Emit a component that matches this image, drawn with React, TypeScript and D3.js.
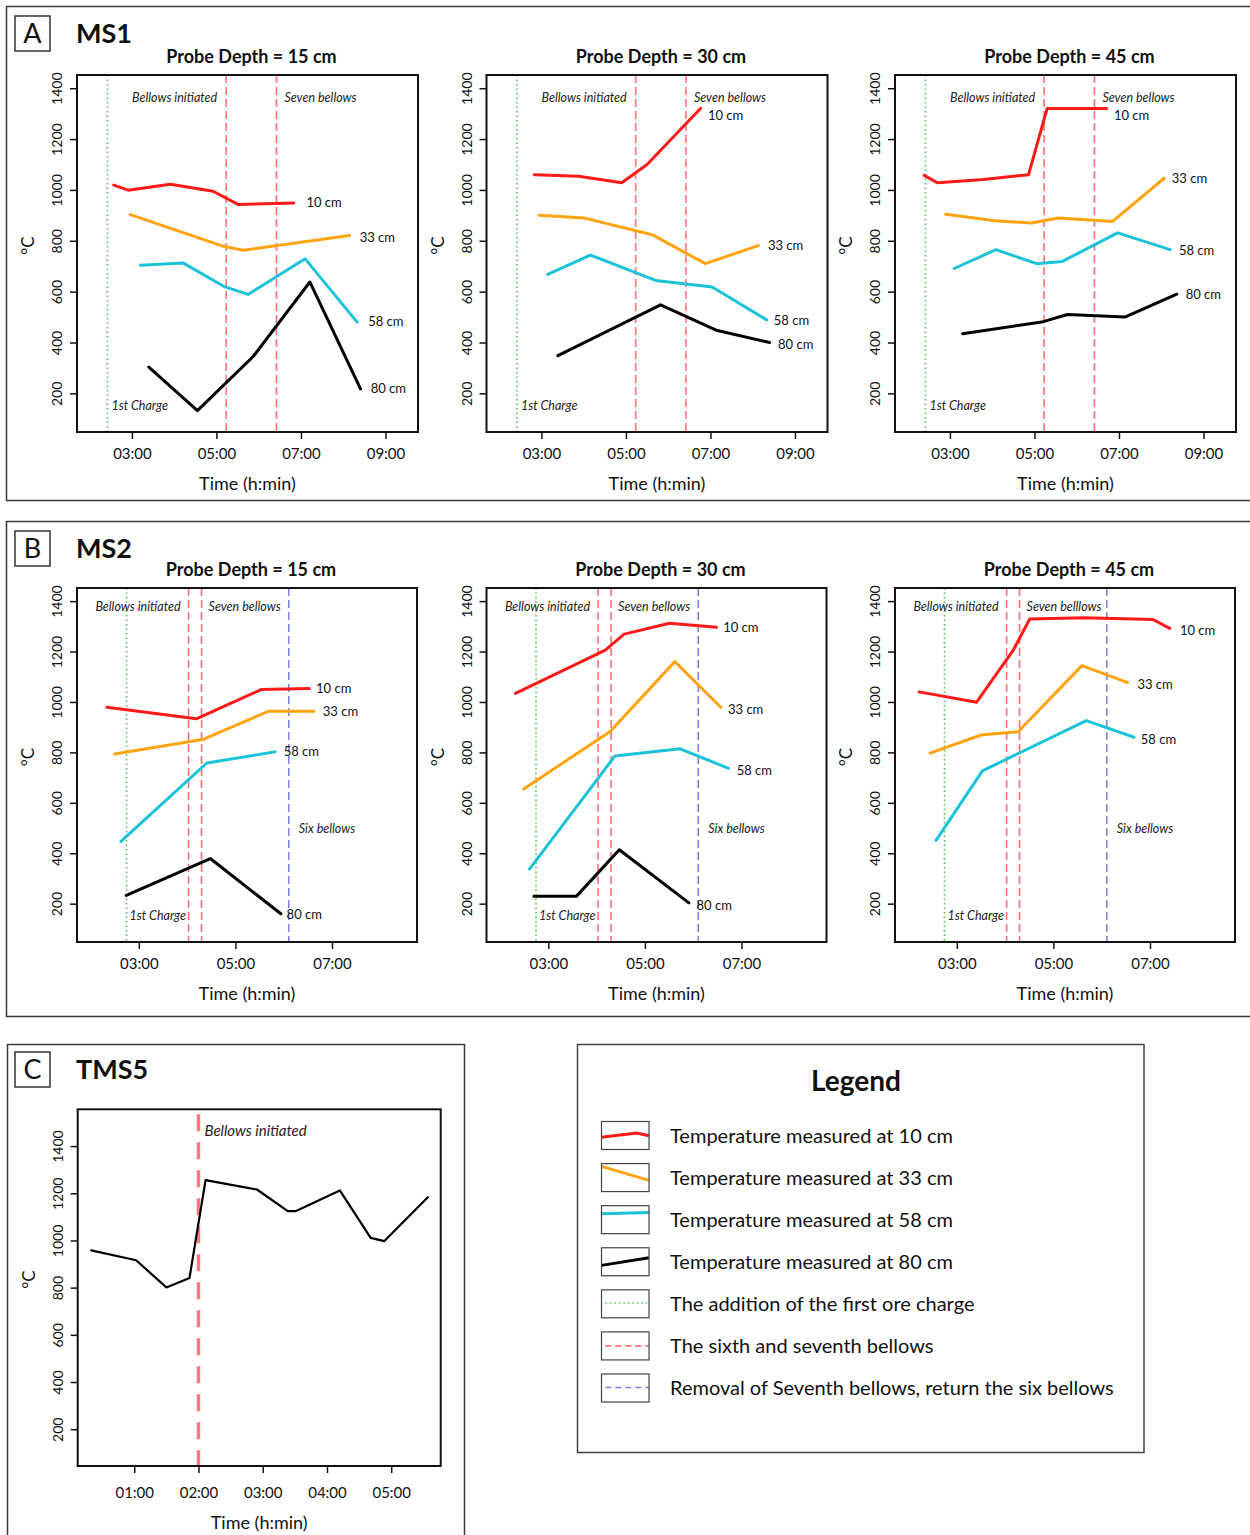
import React, { useRef, useEffect } from "react";
import * as d3 from "d3";

type Pt = [number, number];

const FONT = "Lato, 'Open Sans', 'DejaVu Sans', sans-serif";

// depth series shared by MS1 and MS2
const depthNames = ["10 cm", "33 cm", "58 cm", "80 cm"];
const depthColors = ["#ff1a1a", "#ffa30f", "#1cc3d8", "#000000"];

const tempTicks = [200, 400, 600, 800, 1000, 1200, 1400];
const ms1Hours = [3, 5, 7, 9];
const ms2Hours = [3, 5, 7];
const tms5Hours = [1, 2, 3, 4, 5];

// event markers (hours)
const ms1Charge = 2.42;
const ms1Bellows = [5.23, 6.42];
const ms2Charge = 2.745;
const ms2Bellows = [4.03, 4.3];
const ms2SixBellows = 6.105;
const tms5Bellows = 2.0;

// MS1, probe depth 15 cm
const ms1p15t10: Pt[] = [[2.57, 1019], [2.91, 999], [3.91, 1022], [4.92, 995], [5.51, 943], [6.83, 949]];
const ms1p15t33: Pt[] = [[2.96, 903], [5.17, 778], [5.64, 763], [8.15, 821]];
const ms1p15t58: Pt[] = [[3.2, 704], [4.21, 713], [5.17, 621], [5.75, 589], [7.1, 729], [8.33, 480]];
const ms1p15t80: Pt[] = [[3.4, 303], [4.55, 132], [5.87, 345], [7.21, 638], [8.41, 218]];
const ms1p15lab: Pt[] = [[7.13, 949], [8.39, 813], [8.59, 484], [8.65, 218]];

// MS1, probe depth 30 cm
const ms1p30t10: Pt[] = [[2.83, 1060], [3.88, 1054], [4.9, 1028], [5.5, 1100], [6.77, 1321]];
const ms1p30t33: Pt[] = [[2.95, 900], [4.0, 890], [5.62, 824], [6.88, 710], [8.13, 781]];
const ms1p30t58: Pt[] = [[3.15, 668], [4.16, 744], [5.7, 644], [7.04, 618], [8.33, 489]];
const ms1p30t80: Pt[] = [[3.39, 348], [5.82, 548], [7.16, 447], [8.4, 400]];
const ms1p30lab: Pt[] = [[6.94, 1294], [8.36, 781], [8.5, 486], [8.6, 394]];

// MS1, probe depth 45 cm
const ms1p45t10: Pt[] = [[2.39, 1057], [2.71, 1028], [3.79, 1041], [4.86, 1060], [5.3, 1320], [6.71, 1320]];
const ms1p45t33: Pt[] = [[2.9, 904], [4.07, 879], [4.93, 870], [5.56, 890], [6.85, 876], [8.07, 1046]];
const ms1p45t58: Pt[] = [[3.1, 691], [4.09, 765], [5.05, 710], [5.66, 719], [6.97, 831], [8.21, 765]];
const ms1p45t80: Pt[] = [[3.3, 434], [5.21, 482], [5.78, 510], [7.14, 500], [8.37, 590]];
const ms1p45lab: Pt[] = [[6.88, 1294], [8.25, 1044], [8.42, 762], [8.58, 590]];

// MS2, probe depth 15 cm
const ms2p15t10: Pt[] = [[2.34, 979], [4.19, 933], [5.53, 1049], [6.53, 1053]];
const ms2p15t33: Pt[] = [[2.5, 794], [4.32, 851], [5.68, 963], [6.63, 963]];
const ms2p15t58: Pt[] = [[2.63, 447], [4.41, 758], [5.82, 802]];
const ms2p15t80: Pt[] = [[2.74, 233], [4.48, 379], [5.94, 160]];
const ms2p15lab: Pt[] = [[6.67, 1052], [6.81, 962], [6.0, 805], [6.06, 159]];

// MS2, probe depth 30 cm
const ms2p30t10: Pt[] = [[2.32, 1034], [4.18, 1206], [4.57, 1269], [5.51, 1312], [6.48, 1296]];
const ms2p30t33: Pt[] = [[2.49, 655], [4.28, 883], [5.62, 1160], [6.57, 979]];
const ms2p30t58: Pt[] = [[2.61, 337], [4.38, 786], [5.73, 814], [6.73, 737]];
const ms2p30t80: Pt[] = [[2.7, 229], [3.58, 229], [4.47, 414], [5.91, 203]];
const ms2p30lab: Pt[] = [[6.62, 1294], [6.72, 972], [6.9, 727], [6.07, 192]];

// MS2, probe depth 45 cm (no 80 cm reading)
const ms2p45t10: Pt[] = [[2.22, 1040], [3.41, 999], [4.17, 1206], [4.51, 1329], [5.63, 1334], [7.06, 1327], [7.41, 1292]];
const ms2p45t33: Pt[] = [[2.45, 797], [3.5, 869], [4.27, 882], [5.59, 1144], [6.54, 1077]];
const ms2p45t58: Pt[] = [[2.57, 451], [3.53, 727], [5.68, 926], [6.67, 860]];
const ms2p45lab: Pt[] = [[7.62, 1285], [6.74, 1071], [6.81, 853]];

// TMS5
const tms5Temp: Pt[] = [[0.33, 958], [1.03, 916], [1.5, 801], [1.86, 841], [2.11, 1256], [2.91, 1216], [3.39, 1124], [3.51, 1124], [4.2, 1212], [4.68, 1011], [4.89, 997], [5.57, 1183]];

const legendItems = [
  "Temperature measured at 10 cm",
  "Temperature measured at 33 cm",
  "Temperature measured at 58 cm",
  "Temperature measured at 80 cm",
  "The addition of the first ore charge",
  "The sixth and seventh bellows",
  "Removal of Seventh bellows, return the six bellows",
];

const GREEN = "#4cc24c";
const PINK = "#ff7272";
const BLUE = "#8080e0";

type VLine = { x: number; kind: "green" | "red" | "blue" | "thick" };
type Note = { text: string; x: number; dx: number; v: number; anchor: string; size?: number };

interface PanelCfg {
  left: number;
  top: number;
  width: number;
  height: number;
  xDomain: [number, number];
  yDomain: [number, number];
  xTicks: number[];
  xPad?: number;
  title?: string;
  series: { pts: Pt[]; color: string; w: number }[];
  labels: { text: string; at: Pt }[];
  vlines: VLine[];
  notes: Note[];
}

const hourFmt = (h: number) => d3.format("02d")(h) + ":00";

function Axes({ x, y, xTicks, h, pad }: { x: any; y: any; xTicks: number[]; h: number; pad: number }) {
  const gx = useRef<SVGGElement>(null);
  const gy = useRef<SVGGElement>(null);
  useEffect(() => {
    const xa = d3.axisBottom(x).tickValues(xTicks).tickFormat((d: any) => hourFmt(d)).tickSize(7).tickPadding(pad);
    const sx = d3.select(gx.current!).call(xa as any);
    sx.attr("font-family", FONT).attr("font-size", 15);
    sx.select(".domain").remove();
    sx.selectAll(".tick line").attr("stroke", "#111").attr("stroke-width", 1.5);
    sx.selectAll(".tick text").attr("fill", "#111");

    const ya = d3.axisLeft(y).tickValues(tempTicks).tickFormat(d3.format("d") as any).tickSize(7);
    const sy = d3.select(gy.current!).call(ya as any);
    sy.attr("font-family", FONT).attr("font-size", 14);
    sy.select(".domain").remove();
    sy.selectAll(".tick line").attr("stroke", "#111").attr("stroke-width", 1.5);
    sy.selectAll(".tick text")
      .attr("fill", "#111")
      .attr("transform", "rotate(-90)")
      .attr("x", 0)
      .attr("y", -15)
      .attr("dy", null)
      .attr("text-anchor", "middle");
  }, [x, y, xTicks, pad]);
  return (
    <>
      <g ref={gx} transform={`translate(0,${h})`} />
      <g ref={gy} />
    </>
  );
}

function Panel({ cfg }: { cfg: PanelCfg }) {
  const x = d3.scaleLinear().domain(cfg.xDomain).range([0, cfg.width]);
  const y = d3.scaleLinear().domain(cfg.yDomain).range([cfg.height, 0]);
  const line = d3.line<Pt>().x((d) => x(d[0])).y((d) => y(d[1]));
  const pad = cfg.xPad || 9;
  return (
    <g transform={`translate(${cfg.left},${cfg.top})`} fontFamily={FONT}>
      {cfg.title && (
        <text x={cfg.width / 2 + 4} y={-12} textAnchor="middle" fontSize={18} fontWeight="bold" fill="#111">
          {cfg.title}
        </text>
      )}
      {cfg.vlines.map((v, i) => {
        const style =
          v.kind === "green"
            ? { stroke: GREEN, dash: "1.5 3", w: 1.6 }
            : v.kind === "red"
            ? { stroke: PINK, dash: "8 4", w: 1.6 }
            : v.kind === "blue"
            ? { stroke: BLUE, dash: "8 4", w: 1.6 }
            : { stroke: "#ff7b7b", dash: "17 11", w: 3.5 };
        return (
          <line
            key={i}
            x1={x(v.x)}
            x2={x(v.x)}
            y1={v.kind === "thick" ? 5 : 0}
            y2={cfg.height}
            stroke={style.stroke}
            strokeWidth={style.w}
            strokeDasharray={style.dash}
          />
        );
      })}
      {cfg.series.map((s, i) => (
        <path key={i} d={line(s.pts) || ""} fill="none" stroke={s.color} strokeWidth={s.w} strokeLinejoin="round" strokeLinecap="round" />
      ))}
      {cfg.labels.map((l, i) => (
        <text key={i} x={x(l.at[0])} y={y(l.at[1])} dy="0.35em" fontSize={13} fill="#111">
          {l.text}
        </text>
      ))}
      {cfg.notes.map((n, i) => (
        <text
          key={i}
          x={x(n.x) + n.dx}
          y={y(n.v)}
          dy="0.35em"
          textAnchor={n.anchor as any}
          fontSize={n.size || 12.5}
          fontStyle="italic"
          fill="#222"
        >
          {n.text}
        </text>
      ))}
      <rect x={0} y={0} width={cfg.width} height={cfg.height} fill="none" stroke="#111" strokeWidth={2} />
      <Axes x={x} y={y} xTicks={cfg.xTicks} h={cfg.height} pad={pad} />
      <text x={cfg.width / 2} y={cfg.height + 49 + pad} textAnchor="middle" fontSize={18} fill="#111">
        Time (h:min)
      </text>
      <text transform={`translate(-43,${cfg.height / 2 - 8}) rotate(-90)`} textAnchor="middle" fontSize={17} fill="#111">
        °C
      </text>
    </g>
  );
}

const plotLefts = [77, 486.5, 895];

function depthSeries(sets: Pt[][]) {
  return sets.map((pts, i) => ({ pts, color: depthColors[i], w: 3 }));
}
function depthLabels(pos: Pt[]) {
  return pos.map((at, i) => ({ text: depthNames[i], at }));
}

const ms1Notes: Note[] = [
  { text: "Bellows initiated", x: ms1Bellows[0], dx: -9, v: 1362, anchor: "end" },
  { text: "Seven bellows", x: ms1Bellows[1], dx: 8, v: 1362, anchor: "start" },
  { text: "1st Charge", x: ms1Charge, dx: 4, v: 152, anchor: "start" },
];
const ms1Lines: VLine[] = [
  { x: ms1Charge, kind: "green" },
  { x: ms1Bellows[0], kind: "red" },
  { x: ms1Bellows[1], kind: "red" },
];
const ms2Notes = (seven: string): Note[] => [
  { text: "Bellows initiated", x: ms2Bellows[0], dx: -8, v: 1380, anchor: "end" },
  { text: seven, x: ms2Bellows[1], dx: 7, v: 1380, anchor: "start" },
  { text: "Six bellows", x: ms2SixBellows, dx: 10, v: 498, anchor: "start" },
  { text: "1st Charge", x: ms2Charge, dx: 3, v: 152, anchor: "start" },
];
const ms2Lines: VLine[] = [
  { x: ms2Charge, kind: "green" },
  { x: ms2Bellows[0], kind: "red" },
  { x: ms2Bellows[1], kind: "red" },
  { x: ms2SixBellows, kind: "blue" },
];

const ms1Sets = [
  { title: "Probe Depth = 15 cm", data: [ms1p15t10, ms1p15t33, ms1p15t58, ms1p15t80], lab: ms1p15lab },
  { title: "Probe Depth = 30 cm", data: [ms1p30t10, ms1p30t33, ms1p30t58, ms1p30t80], lab: ms1p30lab },
  { title: "Probe Depth = 45 cm", data: [ms1p45t10, ms1p45t33, ms1p45t58, ms1p45t80], lab: ms1p45lab },
];
const ms2Sets = [
  { title: "Probe Depth = 15 cm", data: [ms2p15t10, ms2p15t33, ms2p15t58, ms2p15t80], lab: ms2p15lab, seven: "Seven bellows" },
  { title: "Probe Depth = 30 cm", data: [ms2p30t10, ms2p30t33, ms2p30t58, ms2p30t80], lab: ms2p30lab, seven: "Seven bellows" },
  { title: "Probe Depth = 45 cm", data: [ms2p45t10, ms2p45t33, ms2p45t58], lab: ms2p45lab, seven: "Seven belllows" },
];

const panels: PanelCfg[] = [
  ...ms1Sets.map((s, i) => ({
    left: plotLefts[i],
    top: 75,
    width: 341,
    height: 357,
    xDomain: [1.7, 9.77] as [number, number],
    yDomain: [48, 1452] as [number, number],
    xTicks: ms1Hours,
    title: s.title,
    series: depthSeries(s.data),
    labels: depthLabels(s.lab),
    vlines: ms1Lines,
    notes: ms1Notes,
  })),
  ...ms2Sets.map((s, i) => ({
    left: plotLefts[i],
    top: 588,
    width: 340,
    height: 354,
    xDomain: [1.72, 8.76] as [number, number],
    yDomain: [48, 1452] as [number, number],
    xTicks: ms2Hours,
    title: s.title,
    series: depthSeries(s.data),
    labels: depthLabels(s.lab),
    vlines: ms2Lines,
    notes: ms2Notes(s.seven),
  })),
  {
    left: 77.7,
    top: 1109.3,
    width: 363,
    height: 356.7,
    xDomain: [0.12, 5.77],
    yDomain: [44, 1556],
    xTicks: tms5Hours,
    xPad: 14,
    series: [{ pts: tms5Temp, color: "#000", w: 2.2 }],
    labels: [],
    vlines: [{ x: tms5Bellows, kind: "thick" }],
    notes: [{ text: "Bellows initiated", x: tms5Bellows, dx: 6, v: 1464, anchor: "start", size: 15 }],
  },
];

// little glyphs inside legend swatches (relative box coords)
const swatchGlyphs: { pts: Pt[]; color: string; w: number; dash?: string }[] = [
  { pts: [[0, 0.56], [0.74, 0.41], [1, 0.51]], color: depthColors[0], w: 3 },
  { pts: [[0, 0.1], [1, 0.6]], color: depthColors[1], w: 3 },
  { pts: [[0, 0.29], [1, 0.24]], color: depthColors[2], w: 3 },
  { pts: [[0, 0.63], [1, 0.36]], color: depthColors[3], w: 3 },
  { pts: [[0.08, 0.47], [0.96, 0.47]], color: GREEN, w: 1.6, dash: "1.5 3" },
  { pts: [[0.08, 0.5], [1, 0.5]], color: PINK, w: 1.6, dash: "6 4" },
  { pts: [[0.08, 0.48], [1, 0.48]], color: BLUE, w: 1.6, dash: "6 4" },
];

function Legend() {
  const sx = d3.scaleLinear().domain([0, 1]).range([601.5, 649]);
  const rowY = d3.scaleLinear().domain([0, legendItems.length - 1]).range([1135.5, 1388]);
  return (
    <g fontFamily={FONT}>
      <rect x={577.5} y={1044.5} width={566.5} height={408} fill="#fff" stroke="#444" strokeWidth={1.5} />
      <text x={856} y={1091} textAnchor="middle" fontSize={28} fontWeight="bold" fill="#111">
        Legend
      </text>
      {legendItems.map((t, i) => {
        const cy = rowY(i);
        const sy = d3.scaleLinear().domain([0, 1]).range([cy - 14, cy + 14]);
        const g = swatchGlyphs[i];
        const path = d3.line<Pt>().x((d) => sx(d[0])).y((d) => sy(d[1]))(g.pts) || "";
        return (
          <g key={i}>
            <path d={path} fill="none" stroke={g.color} strokeWidth={g.w} strokeDasharray={g.dash} />
            <rect x={601.5} y={cy - 14} width={47.5} height={28} fill="none" stroke="#444" strokeWidth={1.2} />
            <text x={670} y={cy} dy="0.35em" fontSize={20} fill="#111">
              {t}
            </text>
          </g>
        );
      })}
    </g>
  );
}

function Tag({ x, y, letter, name }: { x: number; y: number; letter: string; name: string }) {
  return (
    <g fontFamily={FONT} fill="#111">
      <rect x={x} y={y} width={35} height={35} fill="none" stroke="#333" strokeWidth={1.5} />
      <text x={x + 17.5} y={y + 27} textAnchor="middle" fontSize={27}>
        {letter}
      </text>
      <text x={x + 61} y={y + 27} fontSize={27} fontWeight="bold">
        {name}
      </text>
    </g>
  );
}

export default function App() {
  return (
    <svg
      width={1250}
      height={1535}
      style={{ position: "absolute", left: 0, top: 0, background: "#fff" }}
    >
      <rect x={0} y={0} width={1250} height={1535} fill="#fff" />
      <rect x={6.5} y={6.5} width={1260} height={494} fill="none" stroke="#3a3a3a" strokeWidth={1.5} />
      <rect x={6.5} y={521.5} width={1260} height={495} fill="none" stroke="#3a3a3a" strokeWidth={1.5} />
      <rect x={7.5} y={1044.5} width={457} height={600} fill="none" stroke="#3a3a3a" strokeWidth={1.5} />
      <Tag x={15} y={16} letter="A" name="MS1" />
      <Tag x={15} y={531} letter="B" name="MS2" />
      <Tag x={15} y={1052} letter="C" name="TMS5" />
      {panels.map((p, i) => (
        <Panel key={i} cfg={p} />
      ))}
      <Legend />
    </svg>
  );
}
